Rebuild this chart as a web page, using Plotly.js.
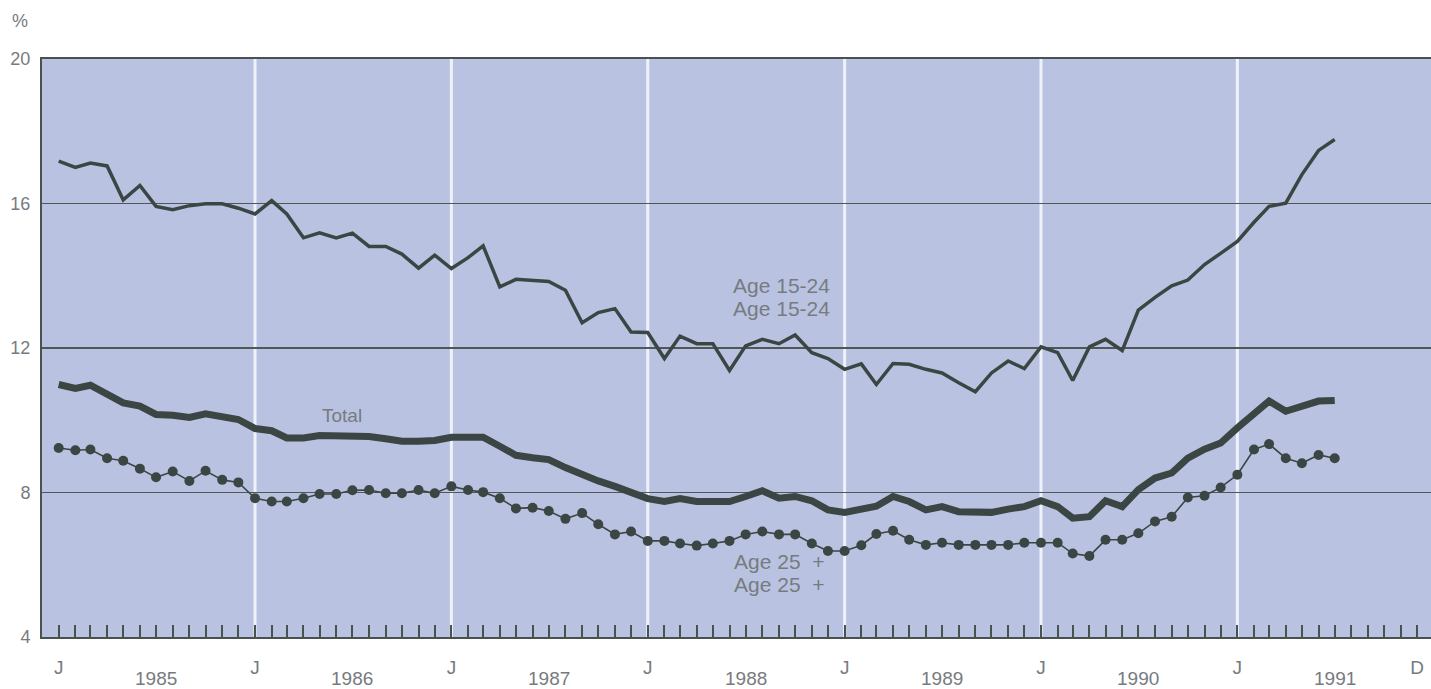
<!DOCTYPE html>
<html>
<head>
<meta charset="utf-8">
<script src="https://cdn.plot.ly/plotly-3.0.1.min.js"></script>
<style>
html,body{margin:0;padding:0;background:#fff;}
#chart{width:1431px;height:689px;}
</style>
</head>
<body>
<div id="chart"></div>
<script>
// Monthly data, January 1985 to July 1991
const startYear = 1985;
const age1524 = [17.17,17.0,17.12,17.04,16.1,16.5,15.92,15.83,15.94,15.99,15.99,15.87,
  15.71,16.08,15.71,15.05,15.19,15.05,15.18,14.81,14.81,14.6,14.21,14.57,
  14.2,14.5,14.83,13.69,13.9,13.86,13.84,13.6,12.7,12.98,13.09,12.44,
  12.43,11.71,12.33,12.12,12.12,11.38,12.06,12.24,12.12,12.36,11.87,11.71,
  11.41,11.56,10.99,11.57,11.55,11.41,11.31,11.04,10.79,11.31,11.64,11.43,
  12.03,11.87,11.1,12.03,12.24,11.93,13.05,13.4,13.72,13.88,14.31,14.62,
  14.95,15.48,15.92,16.01,16.8,17.47,17.77];
const total = [10.99,10.88,10.97,10.73,10.48,10.39,10.16,10.14,10.08,10.18,10.09,10.02,
  9.77,9.71,9.51,9.51,9.58,9.58,9.58,9.55,9.49,9.42,9.42,9.44,
  9.53,9.53,9.53,9.28,9.03,8.96,8.91,8.69,8.49,8.32,8.17,8.0,
  7.83,7.75,7.83,7.75,7.73,7.75,7.89,8.05,7.84,7.89,7.77,7.52,
  7.45,7.52,7.62,7.89,7.75,7.52,7.61,7.47,7.45,7.45,7.54,7.61,
  7.77,7.61,7.29,7.33,7.77,7.61,8.08,8.4,8.54,8.95,9.2,9.37,
  9.79,10.2,10.53,10.25,10.39,10.53,10.55];
const age25plus = [9.23,9.17,9.19,8.95,8.88,8.66,8.42,8.58,8.32,8.6,8.35,8.28,
  7.84,7.75,7.75,7.84,7.96,7.96,8.06,8.07,7.98,7.98,8.07,7.98,
  8.17,8.07,8.01,7.84,7.56,7.58,7.49,7.27,7.43,7.12,6.84,6.92,
  6.66,6.66,6.59,6.53,6.59,6.66,6.84,6.92,6.84,6.84,6.59,6.38,
  6.38,6.54,6.85,6.94,6.69,6.55,6.61,6.55,6.55,6.55,6.55,6.61,
  6.61,6.61,6.31,6.24,6.69,6.69,6.87,7.2,7.33,7.86,7.91,8.14,
  8.49,9.19,9.34,8.95,8.81,9.04,8.95];
const years = [1985,1986,1987,1988,1989,1990,1991];
const yTicks = [4,8,12,16,20];
const seriesLabels = {age1524:'Age 15-24', total:'Total', age25plus:'Age 25  +'};

function monthDate(k){
  const d = new Date(Date.UTC(startYear, k, 1));
  return d.toISOString().slice(0,10);
}
const months = age1524.map((_, k) => monthDate(k));

const lineColor = '#3b4644';
const textColor = '#777b80';
const font = 'Liberation Sans, Arial, sans-serif';

const traces = [
  {x: months, y: age1524, type:'scatter', mode:'lines', line:{color:lineColor, width:3.5}, hoverinfo:'skip'},
  {x: months, y: total, type:'scatter', mode:'lines', line:{color:lineColor, width:7}, hoverinfo:'skip'},
  {x: months, y: age25plus, type:'scatter', mode:'lines+markers', line:{color:lineColor, width:1.6},
   marker:{color:lineColor, size:10}, hoverinfo:'skip'}
];

const tickvals = years.map(y => y + '-01-01').concat([years[years.length-1] + '-12-01']);
const ticktext = years.map(() => 'J').concat(['D']);

const shapes = years.slice(1).map(y => ({
  type:'line', xref:'x', yref:'paper', x0: y + '-01-01', x1: y + '-01-01', y0:0, y1:1,
  line:{color:'#eef2fa', width:3}, layer:'below'
}));

const annotations = years.map(y => ({
  x: y + '-07-01', xref:'x', y:0, yref:'paper', yshift:-41, yanchor:'middle',
  text: String(y), showarrow:false, font:{family:font, size:19, color:textColor}
}));
annotations.push({x:0, xref:'paper', xshift:-32, y:1, yref:'paper', yshift:38, yanchor:'middle',
  text:'%', showarrow:false, font:{family:font, size:18, color:textColor}});
annotations.push({x:'1988-09-05', xref:'x', y:13.72, yref:'y', text:seriesLabels.age1524, showarrow:false,
  font:{family:font, size:21, color:textColor}});
annotations.push({x:'1988-09-05', xref:'x', y:13.08, yref:'y', text:seriesLabels.age1524, showarrow:false,
  font:{family:font, size:21, color:textColor}});
annotations.push({x:'1986-06-12', xref:'x', y:10.12, yref:'y', text:seriesLabels.total, showarrow:false,
  font:{family:font, size:19, color:textColor}});
annotations.push({x:'1988-09-01', xref:'x', y:6.08, yref:'y', text:seriesLabels.age25plus, showarrow:false,
  font:{family:font, size:21, color:textColor}});
annotations.push({x:'1988-09-01', xref:'x', y:5.46, yref:'y', text:seriesLabels.age25plus, showarrow:false,
  font:{family:font, size:21, color:textColor}});

const layout = {
  width:1431, height:689,
  margin:{l:42, r:0, t:59, b:52},
  paper_bgcolor:'#ffffff',
  plot_bgcolor:'#b9c3e1',
  showlegend:false,
  font:{family:font, color:textColor},
  xaxis:{
    type:'date', range:['1984-12-01','1991-12-27'],
    tickmode:'array', tickvals:tickvals, ticktext:ticktext,
    ticks:'inside', ticklen:12, tickwidth:2, tickcolor:'#4a5250',
    minor:{ticks:'inside', dtick:'M1', tick0:'1985-01-01', ticklen:12, tickwidth:2, tickcolor:'#4a5250', showgrid:false},
    showgrid:false, zeroline:false,
    showline:true, linecolor:'#4a5250', linewidth:2, mirror:true,
    ticklabelstandoff:12,
    tickfont:{family:font, size:19, color:textColor}
  },
  yaxis:{
    range:[4,20], tickmode:'array', tickvals:yTicks,
    ticks:'', showgrid:true, gridcolor:'#4f5856', gridwidth:1.6,
    zeroline:false, showline:true, linecolor:'#4a5250', linewidth:2,
    ticklabelstandoff:6,
    tickfont:{family:font, size:18, color:textColor}
  },
  shapes:shapes,
  annotations:annotations
};

Plotly.newPlot('chart', traces, layout, {displayModeBar:false, staticPlot:true});
</script>
</body>
</html>
